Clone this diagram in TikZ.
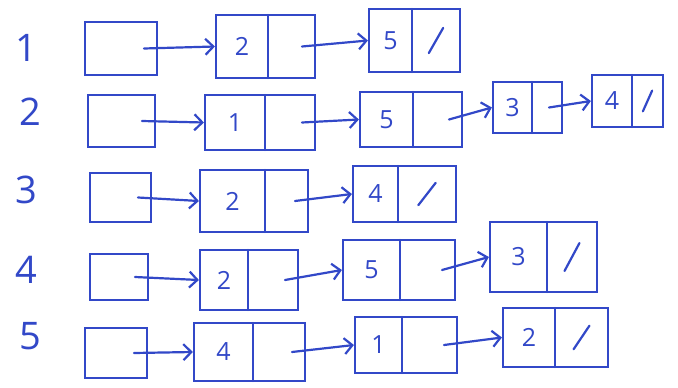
\documentclass[tikz,border=0pt]{standalone}
\usepackage{fontspec}
\setmainfont{Open Sans}
\usetikzlibrary{arrows.meta,calc,fit}
\definecolor{ink}{RGB}{50,72,200}
\tikzset{
  inkline/.style={draw=ink, line width=2.2pt, line cap=round},
  cellbox/.style={inkline, rectangle, inner sep=0pt},
  ptr/.style={inkline, -{Straight Barb[length=8pt,width=16pt,line width=2.2pt]}},
  rowlbl/.style={text=ink, font=\fontsize{38}{38}\selectfont\addfontfeature{Weight=300}},
  val/.style={text=ink, font=\fontsize{25}{25}\selectfont}
}
% head box: name, x1,y1,x2,y2
\newcommand\headbox[5]{%
  \node[cellbox, fit={(#2,#3) (#4,#5)}] (#1) {};
  \coordinate (#1-p) at ({#4-13},{(#3+#5)/2});
}
% list cell: name, x1,y1,x2,y2, xdiv, value
\newcommand\listcell[7]{%
  \node[cellbox, fit={(#2,#3) (#4,#5)}] (#1) {};
  \draw[inkline] (#6,#3) -- (#6,#5);
  \node[val] (#1-v) at ({(#2+#6)/2},{(#3+#5)/2}) {#7};
  \coordinate (#1-p) at ({#4-13},{(#3+#5)/2});
}
% null slash in the right part: y1, x2, y2, xdiv
\newcommand\nullmark[4]{%
  \draw[inkline] ({#4+0.35*(#2-#4)},{#3-0.3*(#3-#1)}) -- ({#4+0.65*(#2-#4)},{#1+0.3*(#3-#1)});
}
\begin{document}
\begin{tikzpicture}[x=1pt,y=-1pt]
\useasboundingbox (0,0) rectangle (678,388);
\fill[white] (0,0) rectangle (678,388);
% row labels
\node[rowlbl] (l1) at (26,48) {1};
\node[rowlbl] (l2) at (30,112) {2};
\node[rowlbl] (l3) at (26,190) {3};
\node[rowlbl] (l4) at (26,270) {4};
\node[rowlbl] (l5) at (30,336) {5};
% row 1
\headbox{h1}{85}{22}{157}{75}
\listcell{r1a}{216}{15}{315}{78}{268}{2}
\listcell{r1b}{369}{9}{460}{72}{412}{5}
\nullmark{9}{460}{72}{412}
\draw[ptr] (h1-p) -- (r1a.west);
\draw[ptr] (r1a-p) -- (r1b.west);
% row 2
\headbox{h2}{88}{95}{155}{147}
\listcell{r2a}{205}{95}{315}{150}{265}{1}
\listcell{r2b}{360}{92}{462}{147}{413}{5}
\listcell{r2c}{493}{82}{562}{133}{532}{3}
\listcell{r2d}{592}{75}{663}{127}{632}{4}
\nullmark{75}{663}{127}{632}
\draw[ptr] (h2-p) -- (r2a.west);
\draw[ptr] (r2a-p) -- (r2b.west);
\draw[ptr] (r2b-p) -- (r2c.west);
\draw[ptr] (r2c-p) -- (r2d.west);
% row 3
\headbox{h3}{90}{173}{151}{222}
\listcell{r3a}{200}{170}{308}{232}{265}{2}
\listcell{r3b}{353}{166}{456}{222}{398}{4}
\nullmark{166}{456}{222}{398}
\draw[ptr] (h3-p) -- (r3a.west);
\draw[ptr] (r3a-p) -- (r3b.west);
% row 4
\headbox{h4}{90}{254}{148}{300}
\listcell{r4a}{200}{250}{298}{310}{248}{2}
\listcell{r4b}{343}{240}{455}{300}{400}{5}
\listcell{r4c}{490}{222}{597}{292}{547}{3}
\nullmark{222}{597}{292}{547}
\draw[ptr] (h4-p) -- (r4a.west);
\draw[ptr] (r4a-p) -- (r4b.west);
\draw[ptr] (r4b-p) -- (r4c.west);
% row 5
\headbox{h5}{85}{328}{147}{378}
\listcell{r5a}{194}{323}{305}{381}{253}{4}
\listcell{r5b}{355}{317}{457}{373}{402}{1}
\listcell{r5c}{503}{308}{608}{367}{555}{2}
\nullmark{308}{608}{367}{555}
\draw[ptr] (h5-p) -- (r5a.west);
\draw[ptr] (r5a-p) -- (r5b.west);
\draw[ptr] (r5b-p) -- (r5c.west);
\end{tikzpicture}
\end{document}
